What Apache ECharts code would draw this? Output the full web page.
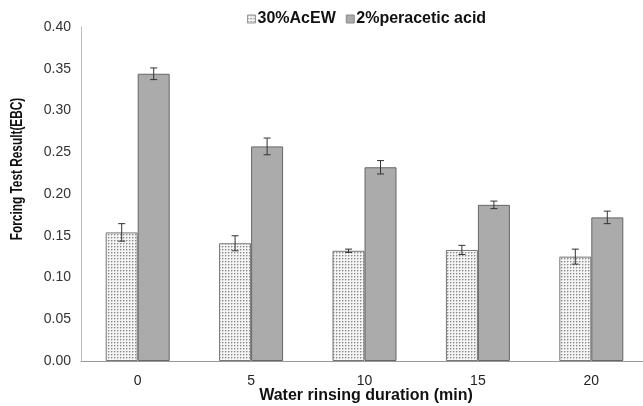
<!DOCTYPE html>
<html>
<head>
<meta charset="UTF-8">
<title>Forcing Test Result</title>
<script src="https://cdn.jsdelivr.net/npm/echarts@6/dist/echarts.min.js"></script>
<style>
  html, body { margin: 0; padding: 0; background: #fff; }
  #main { width: 643px; height: 406px; }
</style>
</head>
<body>
<div id="main"></div>
<script>
// data
const categories = ['0', '5', '10', '15', '20'];
const acew = [0.154, 0.141, 0.132, 0.133, 0.125];
const acewErr = [0.0105, 0.009, 0.002, 0.0055, 0.009];
const peracetic = [0.344, 0.257, 0.232, 0.187, 0.172];
const peraceticErr = [0.007, 0.010, 0.008, 0.0045, 0.0075];
const yTicks = [0, 0.05, 0.1, 0.15, 0.2, 0.25, 0.3, 0.35, 0.4];

const BAR_W = 32;

// dotted grid fill for the AcEW bars
function dotPattern() {
  const c = document.createElement('canvas');
  c.width = 3; c.height = 3;
  const ctx = c.getContext('2d');
  ctx.fillStyle = '#f4f4f4';
  ctx.fillRect(0, 0, 3, 3);
  ctx.fillStyle = '#c4c4c4';
  ctx.fillRect(1, 0, 1, 1);
  ctx.fillRect(0, 1, 1, 1);
  ctx.fillStyle = '#8c8c8c';
  ctx.fillRect(0, 0, 1, 1);
  return c;
}

function errorSeries(values, errs, shift) {
  return {
    type: 'custom',
    silent: true,
    z: 5,
    data: values.map((v, i) => [i, v - errs[i], v + errs[i]]),
    renderItem: function (params, api) {
      const lo = api.coord([api.value(0), api.value(1)]);
      const hi = api.coord([api.value(0), api.value(2)]);
      const x = lo[0] + shift;
      const cap = 3.5;
      const style = { stroke: '#333', lineWidth: 1 };
      return {
        type: 'group',
        children: [
          { type: 'line', shape: { x1: x, y1: lo[1], x2: x, y2: hi[1] }, style: style },
          { type: 'line', shape: { x1: x - cap, y1: hi[1], x2: x + cap, y2: hi[1] }, style: style },
          { type: 'line', shape: { x1: x - cap, y1: lo[1], x2: x + cap, y2: lo[1] }, style: style }
        ]
      };
    }
  };
}

const chart = echarts.init(document.getElementById('main'));
const font = 'Liberation Sans, Arial, sans-serif';

chart.setOption({
  animation: false,
  textStyle: { fontFamily: font },
  grid: { left: 81, top: 27, width: 567, height: 334, outerBoundsMode: 'none' },
  legend: {
    top: 6,
    left: 242,
    icon: 'rect',
    itemWidth: 8,
    itemHeight: 8,
    itemGap: 10,
    textStyle: { fontSize: 16, fontWeight: 'bold', color: '#111', fontFamily: font, padding: [0, 0, 0, -3] },
    data: [
      { name: '30%AcEW', itemStyle: { borderColor: '#999', borderWidth: 1 } },
      { name: '2%peracetic acid', itemStyle: { borderColor: '#888', borderWidth: 1 } }
    ]
  },
  graphic: [{
    type: 'text',
    x: 18, y: 169,
    rotation: Math.PI / 2,
    scaleX: 0.74,
    style: {
      text: 'Forcing Test Result(EBC)',
      fontSize: 16, fontWeight: 'bold', fill: '#111', fontFamily: font,
      align: 'center', verticalAlign: 'middle'
    }
  }, {
    type: 'text',
    x: 366, y: 396,
    style: {
      text: 'Water rinsing duration (min)',
      fontSize: 16, fontWeight: 'bold', fill: '#111', fontFamily: font,
      align: 'center', verticalAlign: 'middle'
    }
  }],
  xAxis: {
    type: 'category',
    data: categories,
    axisLine: { lineStyle: { color: '#999' } },
    axisTick: { show: false },
    axisLabel: { fontSize: 14, color: '#222', margin: 13 }
  },
  yAxis: {
    type: 'value',
    min: 0, max: 0.4, interval: 0.05,
    axisLine: { show: true, lineStyle: { color: '#bbb' } },
    axisTick: { show: false },
    splitLine: { show: false },
    axisLabel: {
      fontSize: 14, color: '#333', margin: 10,
      customValues: yTicks,
      formatter: v => v.toFixed(2)
    }
  },
  series: [
    {
      name: '30%AcEW',
      type: 'bar',
      barWidth: BAR_W,
      barGap: 0,
      itemStyle: {
        color: { image: dotPattern(), repeat: 'repeat' },
        borderColor: '#777',
        borderWidth: 1
      },
      data: acew
    },
    {
      name: '2%peracetic acid',
      type: 'bar',
      barWidth: BAR_W,
      barGap: 0,
      itemStyle: { color: '#ababab', borderColor: '#666', borderWidth: 1 },
      data: peracetic
    },
    errorSeries(acew, acewErr, -BAR_W / 2),
    errorSeries(peracetic, peraceticErr, BAR_W / 2)
  ]
});
</script>
</body>
</html>
